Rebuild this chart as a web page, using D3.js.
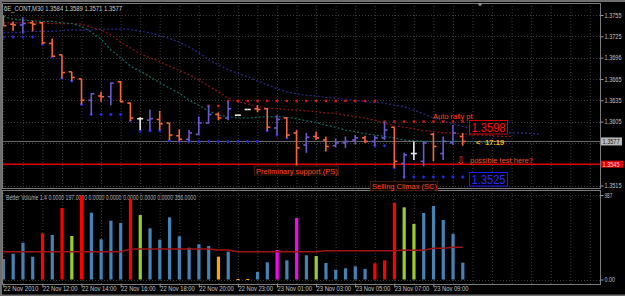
<!DOCTYPE html>
<html>
<head>
<meta charset="utf-8">
<script src="https://cdnjs.cloudflare.com/ajax/libs/d3/7.8.5/d3.min.js"></script>
<style>
body{margin:0;background:#000;}
svg{display:block;}
text{font-family:"Liberation Sans",Arial,sans-serif;}
</style>
</head>
<body>
<div id="chart"></div>
<script>
(function(){
var width = 625,
	height = 296,
	plot = {left:2, right:600, top:3, bottom:188},
	vplot = {top:190, bottom:284},
	step = 9.775,
	x0 = 3.3;

// 6E_CONT M30, 22 Nov 2010 10:00 -> 23 Nov 10:30
var open  = [1.3752,1.3742,1.3741,1.3744,1.3744,1.3715,1.3699,1.3675,1.3665,1.3635,
	1.3641,1.3640,1.3661,1.3631,1.3609,1.3607,1.3608,1.3603,1.3585,1.3580,
	1.3587,1.3603,1.3615,1.3610,1.3614,1.3622,1.3623,1.3623,1.3596,1.3610,
	1.3589,1.3572,1.3584,1.3579,1.3571,1.3575,1.3579,1.3582,1.3577,1.3582,
	1.3597,1.3546,1.3560,1.3549,1.3587,1.3560,1.3575,1.3584];
var high  = [1.3755,1.3746,1.3752,1.3747,1.3745,1.3722,1.3699,1.3675,1.3665,1.3645,
	1.3647,1.3660,1.3662,1.3632,1.3611,1.3622,1.3620,1.3603,1.3594,1.3593,
	1.3612,1.3628,1.3618,1.3634,1.3614,1.3622,1.3628,1.3624,1.3614,1.3611,
	1.3593,1.3589,1.3591,1.3584,1.3581,1.3584,1.3586,1.3585,1.3585,1.3605,
	1.3597,1.3561,1.3577,1.3577,1.3589,1.3584,1.3600,1.3589];
var low   = [1.3740,1.3733,1.3729,1.3732,1.3714,1.3696,1.3666,1.3662,1.3629,1.3614,
	1.3633,1.3628,1.3632,1.3606,1.3593,1.3592,1.3593,1.3579,1.3577,1.3577,
	1.3586,1.3602,1.3607,1.3607,1.3614,1.3622,1.3618,1.3592,1.3586,1.3582,
	1.3541,1.3561,1.3579,1.3563,1.3569,1.3568,1.3573,1.3575,1.3571,1.3579,
	1.3540,1.3525,1.3551,1.3542,1.3549,1.3551,1.3572,1.3571];
var close = [1.3740,1.3741,1.3743,1.3742,1.3716,1.3697,1.3674,1.3667,1.3635,1.3644,
	1.3640,1.3659,1.3633,1.3610,1.3609,1.3609,1.3602,1.3586,1.3580,1.3589,
	1.3603,1.3615,1.3610,1.3623,1.3614,1.3622,1.3622,1.3597,1.3608,1.3586,
	1.3568,1.3583,1.3582,1.3570,1.3575,1.3577,1.3582,1.3577,1.3582,1.3593,
	1.3549,1.3558,1.3560,1.3575,1.3570,1.3577,1.3589,1.3577];

// alligator lines (jaw shift 8, teeth shift 5, lips shift 3)
var jaw = [1.3730,1.3730,1.3731,1.3732,1.3732,1.3732,1.3733,1.3734,1.3734,1.3734,
	1.3735,1.3735,1.3735,1.3735,1.3732,1.3730,1.3726,1.3722,1.3717,1.3710,
	1.3702,1.3692,1.3685,1.3678,1.3673,1.3668,1.3662,1.3657,1.3651,1.3647,
	1.3644,1.3642,1.3641,1.3639,1.3638,1.3636,1.3635,1.3633,1.3632,1.3631,
	1.3628,1.3626,1.3621,1.3616,1.3610,1.3606,1.3602,1.3598,1.3595,1.3593,
	1.3592,1.3591,1.3589,1.3589,1.3588,1.3587];
var teeth = [1.3744,1.3744,1.3744,1.3744,1.3744,1.3743,1.3743,1.3743,1.3742,1.3738,
	1.3734,1.3727,1.3717,1.3709,1.3700,1.3695,1.3689,1.3683,1.3677,1.3671,
	1.3664,1.3655,1.3647,1.3638,1.3633,1.3630,1.3626,1.3624,1.3623,1.3622,
	1.3621,1.3620,1.3619,1.3617,1.3617,1.3614,1.3612,1.3610,1.3607,1.3603,
	1.3599,1.3597,1.3595,1.3592,1.3591,1.3589,1.3589,1.3588,1.3586,1.3586,
	1.3585,1.3584,1.3584];
var lips = [1.3753,1.3749,1.3748,1.3747,1.3746,1.3746,1.3744,1.3743,1.3739,1.3731,
	1.3721,1.3706,1.3695,1.3683,1.3676,1.3668,1.3660,1.3652,1.3645,1.3635,
	1.3628,1.3620,1.3614,1.3612,1.3610,1.3610,1.3611,1.3612,1.3612,1.3611,
	1.3609,1.3606,1.3604,1.3600,1.3597,1.3593,1.3591,1.3588,1.3586,1.3584,
	1.3582,1.3579,1.3578,1.3577,1.3577,1.3577,1.3577,1.3577,1.3577,1.3576,1.3576];

// support (blue) / resistance (red) dots
var support = [1.3724,1.3724,1.3724,1.3724,1.3714,1.3696,1.3666,1.3662,1.3629,1.3615,
	1.3615,1.3615,1.3615,1.3606,1.3592,1.3592,1.3592,1.3578,1.3577,1.3577,
	1.3577,1.3577,1.3577,1.3577,1.3577,1.3577,1.3577,1.3592,1.3586,1.3582,
	1.3541,null,null,null,null,null,null,null,1.3571,1.3571,
	1.3540,1.3527,1.3527,1.3527,1.3527,1.3527,1.3527,1.3527];
var resist = [null,null,null,null,null,null,null,null,null,null,
	null,null,null,null,null,null,null,null,null,null,
	null,1.3627,1.3627,1.3634,1.3634,1.3634,1.3634,1.3634,1.3634,1.3634,
	1.3634,1.3634,1.3634,1.3634,1.3634,1.3634,1.3634,1.3634,1.3634,1.3605,
	1.3605,1.3605,1.3605,1.3605,1.3605,1.3605,1.3605,1.3605];

// Better Volume 1.4
var volume = [239,301,430,266,540,520,835,508,979,780,
	470,687,660,940,753,598,465,726,505,371,
	411,391,266,325,6,6,88,201,345,224,
	718,283,274,193,114,131,154,123,189,224,
	894,843,648,777,858,695,535,197];
var volType = ["b","b","b","b","r","b","r","g","r","b",
	"b","b","b","r","g","b","b","b","b","b",
	"b","b","o","b","o","o","b","b","m","b",
	"m","b","g","b","b","b","b","b","r","r",
	"r","g","g","b","b","b","b","b"];
var volAvg = [325,325,325,325,325,325,325,325,325,325,
	325,325,325,355,355,355,355,355,355,355,
	355,355,345,345,325,325,325,325,325,325,
	325,325,325,336,336,336,336,336,336,336,
	336,341,341,341,365,365,376,376];
var volColors = {b:"#4682b4", r:"#ff0000", g:"#9acd32", o:"#ffa500", m:"#ff00ff"};

var gridPrices = [1.3755,1.3725,1.3695,1.3665,1.3635,1.3605,1.3575,1.3545,1.3515];
var labelPrices = [1.3755,1.3725,1.3695,1.3665,1.3635,1.3605,1.3515];
var priceLabels = ["1.3755","1.3725","1.3696","1.3665","1.3635","1.3605","1.3515"];
var lastPrice = 1.3577, psLevel = 1.3545;

var timeIdx = [0,4,8,12,16,20,24,28,32,36,40,44];
var timeLabels = ["22 Nov 2010","22 Nov 12:00","22 Nov 14:00","22 Nov 16:00","22 Nov 18:00",
	"22 Nov 20:00","22 Nov 23:00","23 Nov 01:00","23 Nov 03:00","23 Nov 05:00",
	"23 Nov 07:00","23 Nov 09:00"];

var X = d3.scaleLinear().domain([0,60]).range([x0, x0+60*step]);
var Y = d3.scaleLinear().domain([1.3755,1.3515]).range([15,185.5]);
var V = d3.scaleLinear().domain([0,987]).range([279.5,195]);

var svg = d3.select("#chart").append("svg")
	.attr("width",width)
	.attr("height",height)
	.style("background","#000");

var defs = svg.append("defs");
defs.append("clipPath").attr("id","clipMain").append("rect")
	.attr("x",plot.left).attr("y",plot.top).attr("width",plot.right-plot.left).attr("height",plot.bottom-plot.top);
defs.append("clipPath").attr("id","clipVol").append("rect")
	.attr("x",plot.left).attr("y",vplot.top).attr("width",plot.right-plot.left).attr("height",vplot.bottom-vplot.top);

var main = svg.append("g").attr("clip-path","url(#clipMain)");
var vol = svg.append("g").attr("clip-path","url(#clipVol)");

// small tahoma-like labels: squeeze to the width MT4 gives them
function fit(sel, w){
	sel.attr("textLength",w).attr("lengthAdjust","spacingAndGlyphs");
}

// grid
var gridIdx = d3.range(0,61,2);
[main, vol].forEach(function(p,k){
	p.selectAll(".vgrid").data(gridIdx).enter().append("line")
		.attr("x1",function(d){return X(d)+0.5}).attr("x2",function(d){return X(d)+0.5})
		.attr("y1",k ? vplot.top : plot.top).attr("y2",k ? vplot.bottom : plot.bottom)
		.attr("stroke","#3a3a3a").attr("stroke-dasharray","1,2");
});
main.selectAll(".hgrid").data(gridPrices).enter().append("line")
	.attr("x1",plot.left).attr("x2",plot.right)
	.attr("y1",function(d){return Math.round(Y(d))+0.5}).attr("y2",function(d){return Math.round(Y(d))+0.5})
	.attr("stroke","#3a3a3a").attr("stroke-dasharray","1,2");
vol.selectAll(".hgrid").data([0,987]).enter().append("line")
	.attr("x1",plot.left).attr("x2",plot.right)
	.attr("y1",function(d){return Math.round(V(d))+0.5}).attr("y2",function(d){return Math.round(V(d))+0.5})
	.attr("stroke","#3a3a3a").attr("stroke-dasharray","1,2");

// bid line and PS level
main.append("line").attr("x1",plot.left).attr("x2",plot.right)
	.attr("y1",Y(lastPrice)).attr("y2",Y(lastPrice)).attr("stroke","#6a6a6a").attr("stroke-width",1);
main.append("line").attr("x1",plot.left).attr("x2",plot.right)
	.attr("y1",Y(psLevel)).attr("y2",Y(psLevel)).attr("stroke","#e00000").attr("stroke-width",1.5);

// alligator
var ma = d3.line().x(function(d,i){return X(i)}).y(function(d){return Y(d)});
[[jaw,"#2a2a8c"],[teeth,"#8c1414"],[lips,"#0a6e64"]].forEach(function(m){
	main.append("path").attr("d",ma(m[0])).attr("fill","none")
		.attr("stroke",m[1]).attr("stroke-width",1.2).attr("stroke-dasharray","2,2");
});

// support / resistance dots
support.forEach(function(d,i){
	if(d==null) return;
	main.append("path")
		.attr("d","M"+(X(i)-1.5)+","+Y(d)+"h3M"+X(i)+","+(Y(d)-1.5)+"v3")
		.attr("stroke","#2a2ae6").attr("stroke-width",1.5);
});
resist.forEach(function(d,i){
	if(d==null) return;
	main.append("rect").attr("x",X(i)-1.2).attr("y",Y(d)-1.2).attr("width",2.4).attr("height",2.4)
		.attr("fill","#e01414");
});

// OHLC bars
var bars = open.map(function(o,i){ return {i:i, o:o, h:high[i], l:low[i], c:close[i]}; });
function barColor(d){ return d.c>d.o ? "#6a5acd" : (d.c<d.o ? "#f5643a" : "#ececec"); }
var bg = main.selectAll(".bar").data(bars).enter().append("g").attr("class","bar")
	.attr("stroke",barColor).attr("stroke-width",1.6);
bg.append("line").attr("x1",function(d){return X(d.i)}).attr("x2",function(d){return X(d.i)})
	.attr("y1",function(d){return Y(d.h)}).attr("y2",function(d){return Y(d.l)});
bg.append("line").attr("x1",function(d){return X(d.i)-3}).attr("x2",function(d){return X(d.i)})
	.attr("y1",function(d){return Y(d.o)}).attr("y2",function(d){return Y(d.o)});
bg.append("line").attr("x1",function(d){return X(d.i)}).attr("x2",function(d){return X(d.i)+3})
	.attr("y1",function(d){return Y(d.c)}).attr("y2",function(d){return Y(d.c)});

// volume panel
vol.append("text").attr("x",6).attr("y",200).attr("fill","#b4b4b4").style("font-size","7px")
	.text("Better Volume 1.4  0.0000 197.0000 0.0000 0.0000 0.0000 0.0000 0.0000 356.0000")
	.call(fit,190);
vol.selectAll(".vbar").data(volume).enter().append("rect")
	.attr("x",function(d,i){return X(i)-1.5}).attr("width",3.2)
	.attr("y",function(d){return V(d)}).attr("height",function(d){return Math.max(1,V(0)-V(d))})
	.attr("fill",function(d,i){return volColors[volType[i]]});
vol.append("path").attr("d",ma.y(function(d){return V(d)})(volAvg))
	.attr("fill","none").attr("stroke","#a01414").attr("stroke-width",1.5);

// frames
svg.append("rect").attr("x",0).attr("y",0).attr("width",width).attr("height",2).attr("fill","#6e6e6e");
svg.append("rect").attr("x",0).attr("y",0).attr("width",2).attr("height",height).attr("fill","#6e6e6e");
svg.append("rect").attr("x",plot.left+0.5).attr("y",plot.top+0.5).attr("width",plot.right-plot.left).attr("height",plot.bottom-plot.top)
	.attr("fill","none").attr("stroke","#7a7a7a");
svg.append("rect").attr("x",plot.left+0.5).attr("y",vplot.top+0.5).attr("width",plot.right-plot.left).attr("height",vplot.bottom-vplot.top)
	.attr("fill","none").attr("stroke","#7a7a7a");
svg.append("rect").attr("x",0).attr("y",height-1.5).attr("width",width).attr("height",1.5).attr("fill","#6e6e6e");
svg.append("path").attr("d","M477,3L483,3L480,6.5Z").attr("fill","#8a8a8a");

// price axis
var pa = svg.append("g").attr("transform","translate("+(plot.right+0.5)+",0)")
	.call(d3.axisRight(Y).tickValues(labelPrices).tickSize(3).tickFormat(function(d,i){return priceLabels[i]}));
pa.select(".domain").remove();
pa.selectAll("line").attr("stroke","#9a9a9a");
pa.selectAll("text").attr("fill","#c0c0c0").attr("x",4).style("font-size","7px").style("font-family","'Liberation Sans',sans-serif")
	.call(fit,17);

svg.append("rect").attr("x",601).attr("y",Y(lastPrice)-4).attr("width",21).attr("height",8).attr("fill","#b8b8b8");
svg.append("text").attr("x",602.5).attr("y",Y(lastPrice)+2.5).attr("fill","#1a1a1a").style("font-size","7px").text("1.3577").call(fit,17);
svg.append("rect").attr("x",601).attr("y",Y(psLevel)-3.5).attr("width",22).attr("height",7).attr("fill","#e00000");
svg.append("text").attr("x",602.5).attr("y",Y(psLevel)+2.5).attr("fill","#ffd0d0").style("font-size","7px").text("1.3545").call(fit,17);

var va = svg.append("g").attr("transform","translate("+(plot.right+0.5)+",0)")
	.call(d3.axisRight(V).tickValues([987,0]).tickSize(3).tickFormat(function(d){return d ? "987" : "0.00"}));
va.select(".domain").remove();
va.selectAll("line").attr("stroke","#9a9a9a");
va.selectAll("text").attr("fill","#c0c0c0").attr("x",4).style("font-size","7px").style("font-family","'Liberation Sans',sans-serif");
va.selectAll("text").each(function(){ d3.select(this).call(fit, this.textContent.length*2.6); });

// time axis: small font stretched vertically so labels keep MT4 proportions
var ta = svg.append("g").attr("transform","translate(0,"+(vplot.bottom+0.5)+")")
	.call(d3.axisBottom(X).tickValues(timeIdx).tickSize(3).tickFormat(function(d,i){return timeLabels[i]}));
ta.select(".domain").remove();
ta.selectAll("line").attr("stroke","#9a9a9a");
ta.selectAll("text").attr("fill","#c0c0c0").attr("text-anchor","start").attr("x",0).attr("y",1.4)
	.attr("transform","scale(1,1.3)")
	.style("font-size","5.3px").style("font-family","'Liberation Sans',sans-serif")
	.call(fit,34.5);

// header
svg.append("text").attr("x",4).attr("y",10.5).attr("fill","#c8c8c8").style("font-size","7.5px")
	.text("6E_CONT,M30  1.3584 1.3589 1.3571 1.3577").call(fit,118);

// annotations
var ann = svg.append("g").style("font-family","'Liberation Sans',Arial,sans-serif").style("font-size","7.5px");
ann.append("rect").attr("x",254.5).attr("y",166).attr("width",84).attr("height",9).attr("fill","#0d0503").attr("stroke","#3a1a10");
ann.append("text").attr("x",256).attr("y",173.5).attr("fill","#ff4a1a").text("Preliminary support (PS)");
ann.append("rect").attr("x",370.5).attr("y",181.5).attr("width",67).attr("height",9).attr("fill","#0d0503").attr("stroke","#3a1a10");
ann.append("text").attr("x",372).attr("y",188.5).attr("fill","#ff4a1a").text("Selling Climax (SC)");
ann.append("text").attr("x",433).attr("y",118.5).attr("fill","#ff4a1a").text("Auto rally pt");
ann.append("text").attr("x",456.5).attr("y",163.5).attr("fill","#ff4a1a").style("font-family","'DejaVu Sans',sans-serif").style("font-size","10px").text("\u21e9");
ann.append("text").attr("x",470).attr("y",162.5).attr("fill","#ff4a1a").text("possible test here?");
ann.append("text").attr("x",476).attr("y",145).attr("fill","#ffb000").style("font-weight","bold").text("<");
ann.append("text").attr("x",485).attr("y",145).attr("fill","#ffb000").style("font-weight","bold").text("17:19");

ann.append("rect").attr("x",469.5).attr("y",120.5).attr("width",38).attr("height",13.5).attr("fill","#000").attr("stroke","#d00000");
ann.append("text").attr("x",471.5).attr("y",132).attr("fill","#ff1010")
	.style("font-size","13px").text("1.3598").call(fit,34);
ann.append("rect").attr("x",469.5).attr("y",172.5).attr("width",38).attr("height",13.5).attr("fill","#000").attr("stroke","#1a1aff");
ann.append("text").attr("x",471.5).attr("y",184).attr("fill","#2a2aff")
	.style("font-size","13px").text("1.3525").call(fit,34);
})()
</script>
</body>
</html>
